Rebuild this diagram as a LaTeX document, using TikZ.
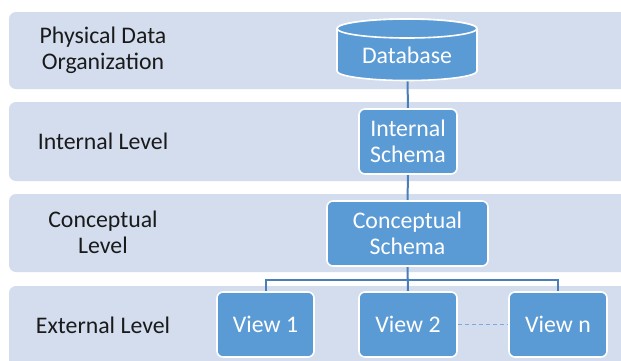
\documentclass[tikz,border=0pt]{standalone}
\usepackage{fontspec}
\setmainfont{Carlito}
\definecolor{bandfill}{HTML}{D3DDEE}
\definecolor{boxfill}{HTML}{5B9BD5}
\definecolor{linecol}{HTML}{4A7EBB}
\definecolor{dashcol}{HTML}{7AAAE0}
\definecolor{labcol}{HTML}{1A1A1A}
\pgfdeclarelayer{bandlayer}
\pgfdeclarelayer{linelayer}
\pgfsetlayers{bandlayer,linelayer,main}
\begin{document}
\begin{tikzpicture}[x=1pt,y=-1pt,
  band/.style={fill=bandfill, draw=none, rounded corners=7pt},
  lab/.style={text=labcol, align=center, font=\fontsize{23.8}{26}\selectfont},
  sbox/.style={fill=boxfill, draw=white, line width=1.6pt, rounded corners=6pt,
     text=white, align=center, font=\fontsize{23.8}{26}\selectfont, inner sep=0pt},
  conn/.style={draw=linecol, line width=2pt},
  dconn/.style={draw=dashcol, line width=1pt, dash pattern=on 4pt off 3pt}]
\useasboundingbox (0,0) rectangle (621,360);
\begin{pgfonlayer}{bandlayer}
\clip (0,0) rectangle (621,360);
\fill[white] (0,0) rectangle (621,360);
\path[band] (9,12) rectangle (650,89);
\path[band] (9,102) rectangle (650,181);
\path[band] (9,194) rectangle (650,272);
\path[band] (9,286) rectangle (650,390);
\end{pgfonlayer}
% level labels
\node[lab] (l1) at (103,50.5) {Physical Data\\Organization};
\node[lab] (l2) at (103,141.5) {Internal Level};
\node[lab] (l3) at (103,232) {Conceptual\\Level};
\node[lab] (l4) at (103,325) {External Level};
% database cylinder
\path[fill=boxfill, draw=white, line width=1.6pt]
  (337,28.5) -- (337,71) arc[start angle=180, end angle=360, x radius=70pt, y radius=9.5pt]
  -- (477,28.5) arc[start angle=0, end angle=180, x radius=70pt, y radius=9.5pt] -- cycle;
\path[fill=boxfill, draw=white, line width=1.6pt] (407,28.5) ellipse[x radius=70pt, y radius=9.5pt];
\node[text=white, font=\fontsize{23.8}{26}\selectfont] (db) at (407,55) {Database};
\coordinate (dbbot) at (407.5,81);
% boxes
\node[sbox, minimum width=98pt, minimum height=65pt] (is) at (408,141.5) {Internal\\Schema};
\node[sbox, minimum width=161pt, minimum height=65pt] (cs) at (407.5,233.5) {Conceptual\\Schema};
\node[sbox, minimum width=97pt, minimum height=65pt] (v1) at (265.5,324.5) {View 1};
\node[sbox, minimum width=98pt, minimum height=65pt] (v2) at (408,324.5) {View 2};
\node[sbox, minimum width=98pt, minimum height=65pt] (vn) at (558,324.5) {View n};
\coordinate (br) at (408,280);
% connectors
\begin{pgfonlayer}{linelayer}
\draw[conn] (dbbot) -- (is.north);
\draw[conn] (is.south) -- (cs.north);
\draw[conn] (cs.south) -- (v2.north);
\draw[conn] (v1.north) -- (v1.north |- br) -| (vn.north);
\draw[dconn] (v2.east) -- (vn.west);
\end{pgfonlayer}
\end{tikzpicture}
\end{document}
